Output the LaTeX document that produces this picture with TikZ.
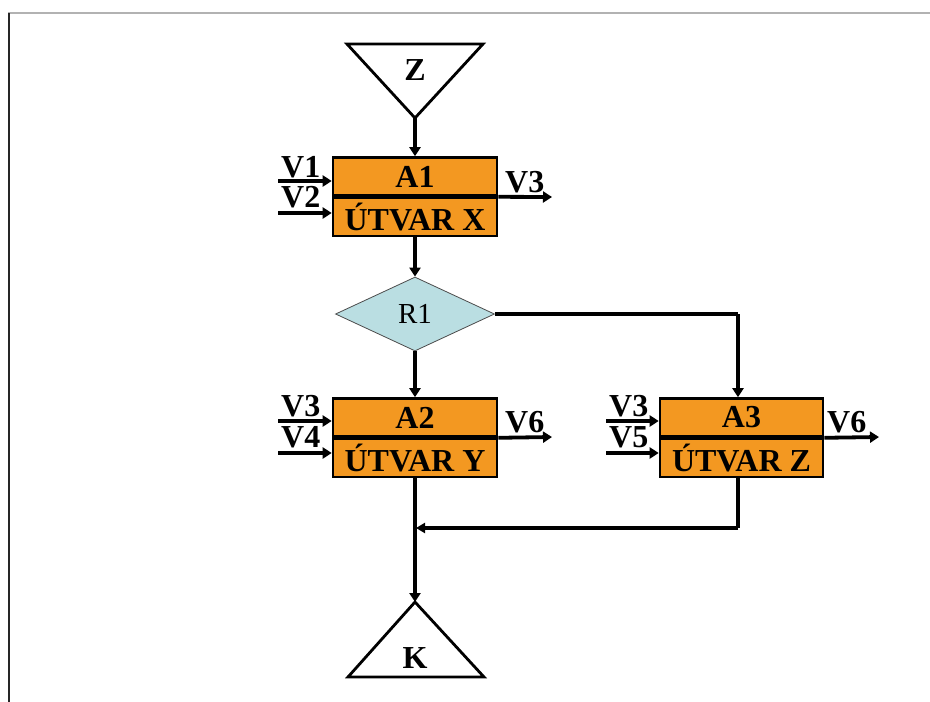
\documentclass[tikz,border=0pt]{standalone}
\usepackage{fontspec}
\setmainfont{Liberation Serif}
\usetikzlibrary{shapes.geometric,arrows.meta,calc}
\definecolor{boxorange}{RGB}{243,152,33}
\definecolor{decblue}{RGB}{186,222,226}
\begin{document}
\begin{tikzpicture}[x=1pt,y=-1pt,
  lbl/.style={font=\fontsize{32}{32}\selectfont\bfseries, inner sep=0pt},
  box/.style={draw=black, line width=2.6pt, fill=boxorange, minimum width=164pt, minimum height=38pt, inner sep=0pt, font=\fontsize{32}{32}\selectfont\bfseries},
  dec/.style={diamond, draw=black!70, line width=0.8pt, fill=decblue, minimum width=159pt, minimum height=74pt, aspect=2.15, inner sep=0pt, font=\fontsize{29}{29}\selectfont},
  arr/.style={line width=3.8pt, -{Triangle[length=9pt,width=11pt]}},
  plainline/.style={line width=3.2pt},
  tri/.style={draw=black, line width=2.8pt, fill=white, line join=miter}
]
\useasboundingbox (0,0) rectangle (930,702);
% frame
\draw[black!30, line width=1.5pt] (8,13) -- (930,13);
\draw[black!85, line width=2pt] (8.5,13) -- (8.5,702);

% start triangle Z
\coordinate (zl) at (347,44);
\coordinate (zr) at (483,44);
\coordinate (zap) at (415,118);
\draw[tri] (zl) -- (zr) -- (zap) -- cycle;
\node[lbl] (zt) at (415,70) {Z};

% A1
\node[box] (a1t) at (415,176.5) {A1};
\node[box, anchor=north] (a1b) at (a1t.south) {ÚTVAR X};
\draw[arr] (zap) -- (a1t.north);
\coordinate (v1s) at (278,181);
\coordinate (v2s) at (278,213);
\draw[arr] (v1s) -- (v1s -| a1t.west);
\draw[arr] (v2s) -- (v2s -| a1b.west);
\node[lbl, anchor=base west] (v1) at (281,177) {V1};
\node[lbl, anchor=base west] (v2) at (281,207) {V2};
\coordinate (v3e) at (552,197);
\draw[arr] (a1t.south east) -- (v3e);
\node[lbl, anchor=base west] (v3a) at (505,192) {V3};

% decision R1
\node[dec] (r1) at (415,314) {R1};
\draw[arr] (a1b.south) -- (r1.north);

% A2
\node[box] (a2t) at (415,417.5) {A2};
\node[box, anchor=north] (a2b) at (a2t.south) {ÚTVAR Y};
\draw[arr] (r1.south) -- (a2t.north);
\coordinate (v3bs) at (278,421);
\coordinate (v4s) at (278,453);
\draw[arr] (v3bs) -- (v3bs -| a2t.west);
\draw[arr] (v4s) -- (v4s -| a2b.west);
\node[lbl, anchor=base west] (v3b) at (281,416) {V3};
\node[lbl, anchor=base west] (v4) at (281,447) {V4};
\coordinate (v6ae) at (552,437);
\draw[arr] (a2t.south east) -- (v6ae);
\node[lbl, anchor=base west] (v6a) at (505,432) {V6};

% A3
\node[box, minimum width=163pt] (a3t) at (741.5,417.5) {A3};
\node[box, minimum width=163pt, anchor=north] (a3b) at (a3t.south) {ÚTVAR Z};
\coordinate (r1c) at (738,314);
\draw[plainline] (r1.east) -- (r1c);
\draw[arr] (r1c) -- (r1c |- a3t.north);
\coordinate (v3cs) at (606,421);
\coordinate (v5s) at (606,453);
\draw[arr] (v3cs) -- (v3cs -| a3t.west);
\draw[arr] (v5s) -- (v5s -| a3b.west);
\node[lbl, anchor=base west] (v3c) at (609,416) {V3};
\node[lbl, anchor=base west] (v5) at (609,447) {V5};
\coordinate (v6be) at (879,437);
\draw[arr] (a3t.south east) -- (v6be);
\node[lbl, anchor=base west] (v6b) at (827,432) {V6};

% end triangle K
\coordinate (kap) at (415,602);
\coordinate (kl) at (348,677);
\coordinate (kr) at (484,677);
\draw[tri] (kap) -- (kr) -- (kl) -- cycle;
\node[lbl] (kt) at (415,658) {K};

% merge
\coordinate (a3d) at (738,528);
\coordinate (mj) at (415,528);
\draw[plainline] (a3b.south -| a3d) -- (a3d);
\draw[plainline, -{Triangle[length=9pt,width=10pt]}] (a3d) -- ($(mj)+(1,0)$);
\draw[arr] (a2b.south) -- (kap);
\end{tikzpicture}
\end{document}
